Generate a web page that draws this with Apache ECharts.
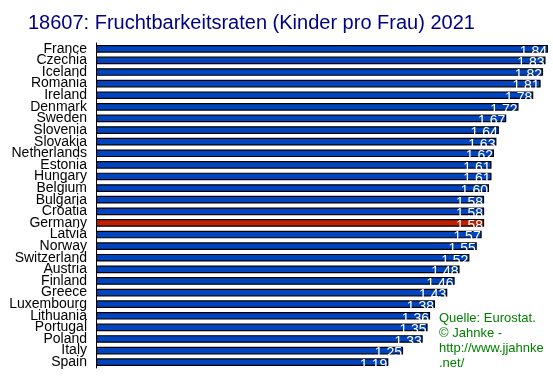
<!DOCTYPE html>
<html>
<head>
<meta charset="utf-8">
<script src="https://cdn.jsdelivr.net/npm/echarts@6/dist/echarts.min.js"></script>
<style>html,body{margin:0;padding:0;background:#fff}#c{width:553px;height:376px}</style>
</head>
<body>
<div id="c"></div>
<script>
var titleText = '18607: Fruchtbarkeitsraten (Kinder pro Frau) 2021';
var sourceLines = ['Quelle: Eurostat.', '© Jahnke -', 'http://www.jjahnke', '.net/'];
var countries = ['France','Czechia','Iceland','Romania','Ireland','Denmark','Sweden','Slovenia','Slovakia','Netherlands','Estonia','Hungary','Belgium','Bulgaria','Croatia','Germany','Latvia','Norway','Switzerland','Austria','Finland','Greece','Luxembourg','Lithuania','Portugal','Poland','Italy','Spain'];
var values = [1.84,1.83,1.82,1.81,1.78,1.72,1.67,1.64,1.63,1.62,1.61,1.61,1.60,1.58,1.58,1.58,1.57,1.55,1.52,1.48,1.46,1.43,1.38,1.36,1.35,1.33,1.25,1.19];
var highlight = 'Germany';

var chart = echarts.init(document.getElementById('c'));
chart.setOption({
  animation: false,
  backgroundColor: '#ffffff',
  title: {
    text: titleText, left: 23, top: 8,
    textStyle: {color: '#000080', fontFamily: 'Liberation Sans, Arial', fontSize: 20, fontWeight: 'normal'}
  },
  grid: {left: 96, right: 5, top: 43, bottom: 8},
  xAxis: {type: 'value', min: 0, max: 1.84, show: false},
  yAxis: {
    type: 'category', data: countries, inverse: true,
    axisLine: {show: true, lineStyle: {color: '#000', width: 1}},
    axisTick: {show: false},
    axisLabel: {interval: 0, color: '#000', fontFamily: 'Liberation Sans, Arial', fontSize: 14, margin: 9, lineHeight: 12}
  },
  series: [{
    type: 'bar',
    data: values.map(function (v, i) {
      return {value: v, itemStyle: {color: countries[i] === highlight ? '#c02000' : '#0044c0'}};
    }),
    barCategoryGap: '34%',
    itemStyle: {borderColor: '#000', borderWidth: 1.2},
    label: {
      show: true, position: 'insideRight', offset: [4, 3],
      color: '#fff', fontFamily: 'Liberation Sans, Arial', fontSize: 14,
      formatter: function (p) { return p.value.toFixed(2); }
    }
  }],
  graphic: [{
    type: 'text', left: 439, top: 311,
    style: {text: sourceLines.join('\n'), fill: '#008000', font: '13px Liberation Sans, Arial', lineHeight: 15}
  }]
});
</script>
</body>
</html>
